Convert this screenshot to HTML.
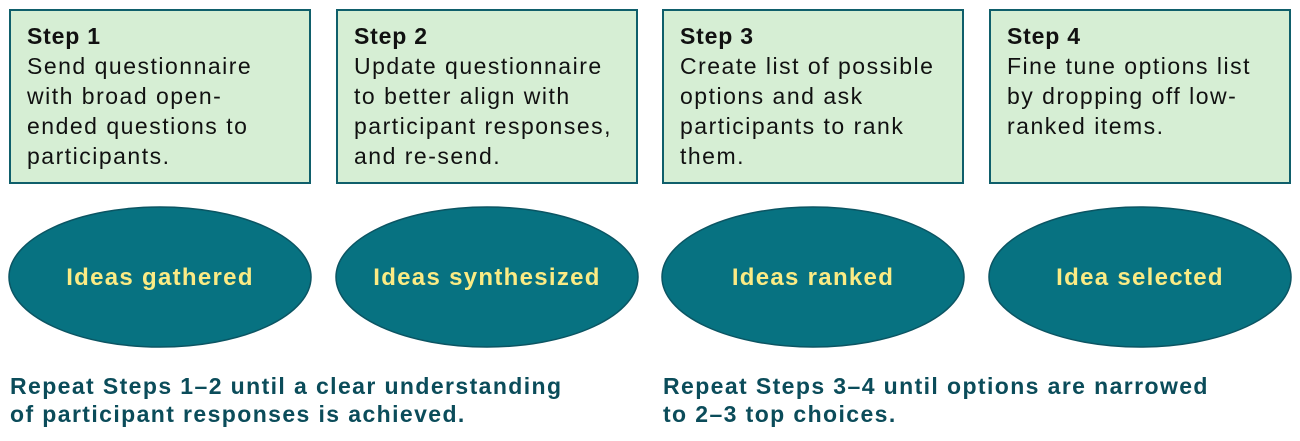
<!DOCTYPE html>
<html><head><style>
body{margin:0;width:1300px;height:441px;background:#fff;position:relative;font-family:"Liberation Sans",sans-serif;overflow:hidden}
.b{position:absolute;top:9px;width:298px;height:171px;background:#d6eed4;border:2px solid #0f5f6b;box-sizing:content-box}
.t{position:absolute;left:16px;top:10px;font-size:23px;line-height:30px;color:#111;letter-spacing:1.5px;white-space:nowrap}
.t b{font-weight:bold;letter-spacing:0.8px}
.r{position:absolute;font-size:23px;line-height:28px;font-weight:bold;color:#0b4c5a;top:372px;letter-spacing:1.4px;white-space:nowrap}
</style></head><body>
<div class="b" style="left:9px"><div class="t"><b>Step 1</b><br>Send questionnaire<br>with broad open-<br>ended questions to<br>participants.</div></div>
<div class="b" style="left:336px"><div class="t"><b>Step 2</b><br>Update questionnaire<br>to better align with<br>participant responses,<br>and re-send.</div></div>
<div class="b" style="left:662px"><div class="t"><b>Step 3</b><br>Create list of possible<br>options and ask<br>participants to rank<br>them.</div></div>
<div class="b" style="left:989px"><div class="t"><b>Step 4</b><br>Fine tune options list<br>by dropping off low-<br>ranked items.</div></div>
<svg width="1300" height="441" style="position:absolute;left:0;top:0">
<g fill="#077281" stroke="#0b5563" stroke-width="1.5">
<ellipse cx="160" cy="277" rx="151" ry="70"/>
<ellipse cx="487" cy="277" rx="151" ry="70"/>
<ellipse cx="813" cy="277" rx="151" ry="70"/>
<ellipse cx="1140" cy="277" rx="151" ry="70"/>
</g>
<g fill="#fbeb84" font-family="Liberation Sans, sans-serif" font-weight="bold" font-size="24" text-anchor="middle" letter-spacing="1.3">
<text x="160" y="285">Ideas gathered</text>
<text x="487" y="285">Ideas synthesized</text>
<text x="813" y="285">Ideas ranked</text>
<text x="1140" y="285">Idea selected</text>
</g>
</svg>
<div class="r" style="left:10px">Repeat Steps 1–2 until a clear understanding<br>of participant responses is achieved.</div>
<div class="r" style="left:663px">Repeat Steps 3–4 until options are narrowed<br>to 2–3 top choices.</div>
</body></html>
